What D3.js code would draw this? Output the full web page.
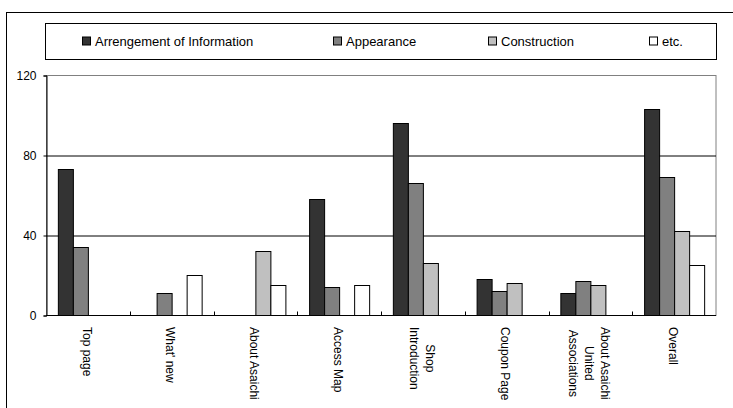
<!DOCTYPE html>
<html><head><meta charset="utf-8">
<script src="https://cdn.jsdelivr.net/npm/d3@7"></script>
<style>body{margin:0;background:#fff}svg{display:block;font-family:"Liberation Sans",Arial,sans-serif}</style>
</head><body>
<svg id="c" width="733" height="408"></svg>
<script>
const categories = ["Top page","What' new","About Asaichi","Access Map","Shop\nIntroduction","Coupon Page","About Asaichi\nUnited\nAssociations","Overall"];
const seriesNames = ["Arrengement of Information","Appearance","Construction","etc."];
const arrangement = [73,0,0,58,96,18,11,103];
const appearance = [34,11,0,14,66,12,17,69];
const construction = [0,0,32,0,26,16,15,42];
const etc = [0,20,15,15,0,0,0,25];
const yTicks = [0,40,80,120];
const colors = ["#333333","#808080","#c0c0c0","#ffffff"];
const seriesValues = [arrangement, appearance, construction, etc];

const svg = d3.select("#c");
const L = 46, R = 716, T = 75.5, B = 315.5;

// outer frame
svg.append("rect").attr("x",6.5).attr("y",12.5).attr("width",740).attr("height",410)
  .attr("fill","none").attr("stroke","#000").attr("stroke-width",1);

// legend
svg.append("rect").attr("x",45.5).attr("y",23.5).attr("width",671).attr("height",36)
  .attr("fill","#fff").attr("stroke","#000").attr("stroke-width",1);
const legX = [82,333,488,649];
seriesNames.forEach((s,i)=>{
  const g = svg.append("g").attr("transform",`translate(${legX[i]},41.5)`);
  g.append("rect").attr("x",0.5).attr("y",-4.5).attr("width",8).attr("height",8)
    .attr("fill",colors[i]).attr("stroke","#000");
  g.append("text").attr("x",13).attr("y",0).attr("dy","0.35em")
    .attr("font-size",13).attr("fill","#000").text(s);
});

const x0 = d3.scaleBand().domain(categories).range([L,R]).padding(0);
const x1 = d3.scaleBand().domain(seriesNames).range([0,x0.bandwidth()]).paddingInner(0).paddingOuter(0.79);
const y = d3.scaleLinear().domain([0,120]).range([B,T]);

// plot border
svg.append("rect").attr("x",L+0.5).attr("y",T).attr("width",R-L-0.5).attr("height",B-T)
  .attr("fill","none").attr("stroke","#808080");

// gridlines
svg.append("g").attr("transform",`translate(${L},0)`)
  .call(d3.axisLeft(y).tickValues([40,80]).tickSize(-(R-L)).tickFormat(""))
  .call(g=>g.select(".domain").remove())
  .call(g=>g.selectAll("line").attr("stroke","#000"));

// bars
const groups = svg.append("g").selectAll("g").data(categories).join("g")
  .attr("transform",d=>`translate(${x0(d)},0)`);
groups.selectAll("rect").data((d,ci)=>seriesNames.map((s,si)=>({s,si,v:seriesValues[si][ci]})).filter(o=>o.v>0))
  .join("rect")
  .attr("x",o=>x1(o.s)+0.5).attr("width",x1.bandwidth())
  .attr("y",o=>y(o.v)).attr("height",o=>y(0)-y(o.v))
  .attr("fill",o=>colors[o.si]).attr("stroke","#000").attr("stroke-width",1);

// y axis
const ya = svg.append("g").attr("transform",`translate(${L+0.5},0)`)
  .call(d3.axisLeft(y).tickValues(yTicks).tickSize(3).tickPadding(7));
ya.select(".domain").attr("stroke","#000");
ya.selectAll("text").attr("font-size",12).attr("fill","#000").attr("font-family","Liberation Sans, Arial, sans-serif");

// x axis line and ticks at boundaries
svg.append("line").attr("x1",L).attr("x2",R).attr("y1",B).attr("y2",B).attr("stroke","#000");
svg.append("g").selectAll("line").data(categories.slice(1)).join("line")
  .attr("x1",d=>Math.round(x0(d))+0.5).attr("x2",d=>Math.round(x0(d))+0.5)
  .attr("y1",B).attr("y2",B-4).attr("stroke","#000");

// x labels
const lineH = 16;
categories.forEach(c=>{
  const lines = c.split("\n");
  const cx = x0(c) + x0.bandwidth()/2 - 1;
  const t = svg.append("text").attr("font-size",12).attr("fill","#000")
    .attr("text-anchor","middle");
  const spans = lines.map((ln,i)=>t.append("tspan").text(ln));
  const maxW = d3.max(spans.map(s=>s.node().getComputedTextLength()));
  const startY = 327;
  t.attr("transform",`translate(${cx},${startY + maxW/2}) rotate(90)`);
  spans.forEach((s,i)=>{
    s.attr("x",0).attr("y",(i-(lines.length-1)/2)*lineH).attr("dy","0.35em");
  });
});
</script>
</body></html>
